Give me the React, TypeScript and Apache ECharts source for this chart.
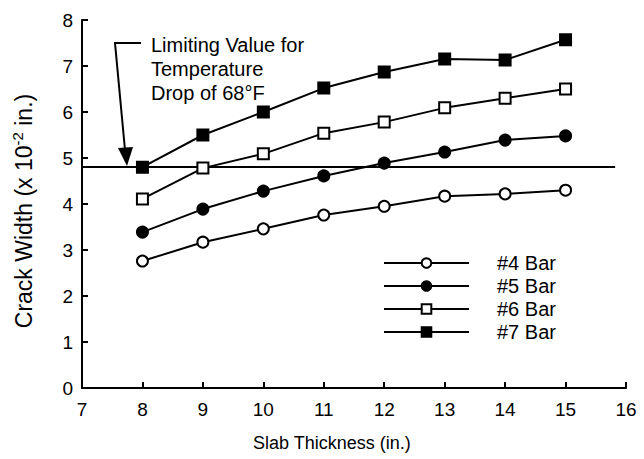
import React, { useEffect, useRef } from "react";
import * as echarts from "echarts";

const thickness = [8, 9, 10, 11, 12, 13, 14, 15];
const bar4 = [2.76, 3.17, 3.46, 3.76, 3.95, 4.17, 4.22, 4.3];
const bar5 = [3.39, 3.89, 4.28, 4.61, 4.89, 5.13, 5.39, 5.48];
const bar6 = [4.11, 4.78, 5.09, 5.54, 5.78, 6.09, 6.3, 6.5];
const bar7 = [4.8, 5.5, 6.0, 6.52, 6.87, 7.15, 7.13, 7.57];
const limitValue = 4.8;
const limitRange = [7, 15.82];
const seriesNames = ["#4 Bar", "#5 Bar", "#6 Bar", "#7 Bar"];
const annotationLines = ["Limiting Value for", "Temperature", "Drop of 68°F"];

const FONT = "Liberation Sans, Arial, Helvetica, sans-serif";

export default function App() {
  const ref = useRef<HTMLDivElement>(null);
  useEffect(() => {
    if (!ref.current) return;
    const chart = echarts.init(ref.current, undefined, { renderer: "svg" });
    const mk = (vals: number[]) => thickness.map((t, i) => [t, vals[i]]);
    const styles = [
      { symbol: "circle", fill: "#fff" },
      { symbol: "circle", fill: "#000" },
      { symbol: "rect", fill: "#fff" },
      { symbol: "rect", fill: "#000" },
    ];
    const datas = [bar4, bar5, bar6, bar7];
    const series: any[] = datas.map((d, i) => ({
      name: seriesNames[i],
      type: "line",
      data: mk(d),
      symbol: styles[i].symbol,
      symbolSize: 11,
      lineStyle: { color: "#000", width: 2 },
      itemStyle: { color: styles[i].fill, borderColor: "#000", borderWidth: 2 },
      z: 3 + i,
    }));
    series.push({
      type: "line",
      data: [],
      markLine: {
        silent: true,
        symbol: "none",
        label: { show: false },
        lineStyle: { color: "#000", width: 2, type: "solid" },
        data: [[{ coord: [limitRange[0], limitValue] }, { coord: [limitRange[1], limitValue] }]],
      },
    });
    chart.setOption({
      animation: false,
      backgroundColor: "#fff",
      textStyle: { fontFamily: FONT },
      grid: { left: 82, right: 18, top: 20, bottom: 71 },
      xAxis: {
        type: "value",
        min: 7,
        max: 16,
        interval: 1,
        axisLine: { lineStyle: { color: "#000", width: 2 } },
        axisTick: { inside: true, length: 6, lineStyle: { color: "#000", width: 2 } },
        axisLabel: { color: "#000", fontSize: 19, margin: 12, fontFamily: FONT },
        splitLine: { show: false },
      },
      yAxis: {
        type: "value",
        min: 0,
        max: 8,
        interval: 1,
        name: "Crack Width (x 10{sup|-2} in.)",
        nameLocation: "middle",
        nameGap: 45,
        nameTextStyle: {
          color: "#000",
          fontSize: 23,
          fontFamily: FONT,
          padding: [0, 14, 0, 0],
          rich: { sup: { fontSize: 15, verticalAlign: "top", padding: [0, 0, 12, 0], color: "#000", fontFamily: FONT } },
        },
        axisLine: { show: true, lineStyle: { color: "#000", width: 2 } },
        axisTick: { show: true, inside: true, length: 6, lineStyle: { color: "#000", width: 2 } },
        axisLabel: { color: "#000", fontSize: 19, margin: 9, fontFamily: FONT },
        splitLine: { show: false },
      },
      legend: {
        orient: "vertical",
        left: 378,
        top: 248,
        itemWidth: 85,
        itemHeight: 12,
        itemGap: 3,
        data: seriesNames,
        textStyle: { color: "#000", fontSize: 20, fontFamily: FONT, padding: [0, 0, 0, 23] },
      },
      graphic: [
        {
          type: "text",
          left: 151,
          top: 33,
          style: {
            text: annotationLines.join("\n"),
            fontSize: 20,
            fontFamily: FONT,
            fill: "#000",
            lineHeight: 24,
          },
        },
        { type: "polyline", shape: { points: [[141, 43], [115, 43], [125, 150]] }, style: { stroke: "#000", lineWidth: 2, fill: "none" } },
        { type: "polygon", shape: { points: [[118, 148], [133, 147], [127, 166]] }, style: { fill: "#000" } },
        {
          type: "text",
          left: 253,
          top: 434,
          style: { text: "Slab Thickness (in.)", fontSize: 18, fontFamily: FONT, fill: "#000" },
        },
      ],
      series,
    });
    return () => chart.dispose();
  }, []);
  return <div ref={ref} style={{ width: 644, height: 459, position: "absolute", left: 0, top: 0 }} />;
}
